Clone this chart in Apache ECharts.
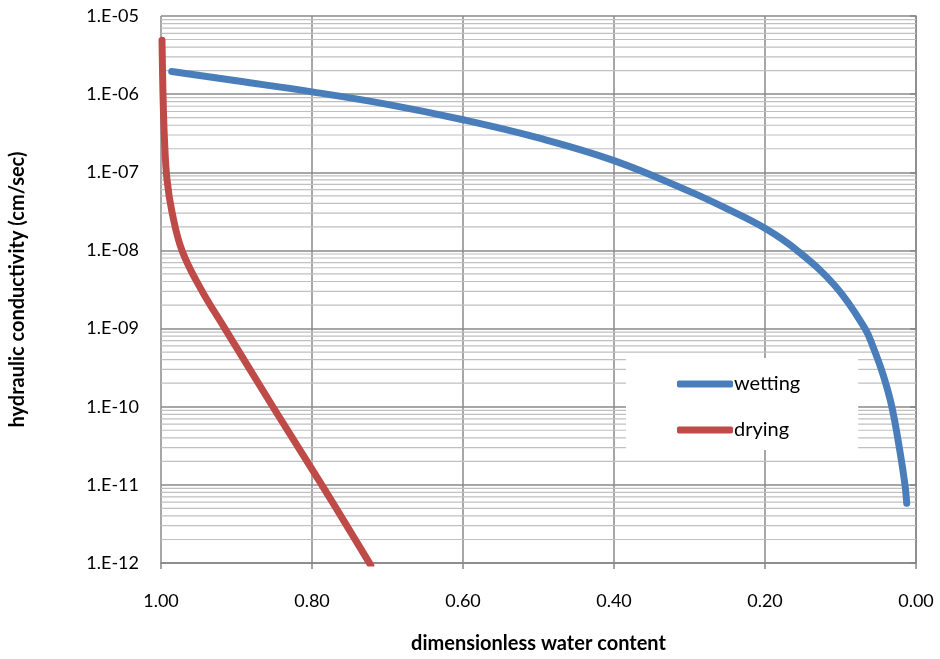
<!DOCTYPE html>
<html>
<head>
<meta charset="utf-8">
<script src="https://cdn.jsdelivr.net/npm/echarts@6/dist/echarts.min.js"></script>
<style>
html,body{margin:0;padding:0;background:#fff;}
#chart{width:940px;height:659px;}
</style>
</head>
<body>
<div id="chart"></div>
<script>
// ---- data ----
const wettingX = [0.9858, 0.90, 0.80, 0.70, 0.60, 0.50, 0.40, 0.30, 0.25, 0.20, 0.1575, 0.107, 0.0675, 0.0565, 0.0432, 0.032, 0.0212, 0.0146, 0.0123];
const wettingY = [1.95e-6, 1.48e-6, 1.07e-6, 7.4e-7, 4.7e-7, 2.75e-7, 1.41e-7, 5.7e-8, 3.4e-8, 1.92e-8, 1.0e-8, 3.5e-9, 1.0e-9, 5.7e-10, 2.5e-10, 1.0e-10, 2.65e-11, 1.0e-11, 5.8e-12];
const dryingX = [0.99868, 0.99735, 0.99537, 0.99206, 0.98545, 0.97222, 0.94709, 0.91534, 0.85185, 0.78704, 0.72222];
const dryingY = [4.9e-6, 1.0e-6, 2.6e-7, 8.1e-8, 3.1e-8, 1.0e-8, 3.2e-9, 1.0e-9, 1.0e-10, 1.0e-11, 9.4e-13];
const seriesNames = ['wetting', 'drying'];
const xMin = 0, xMax = 1;
const yMin = 1e-12, yMax = 1e-5;
const xTitle = 'dimensionless water content';
const yTitle = 'hydraulic conductivity (cm/sec)';

// minor log gridlines (2..9 within each decade)
const minorVals = [];
for (let e = -12; e < -5; e++) {
  for (let m = 2; m <= 9; m++) minorVals.push(m * Math.pow(10, e));
}
const minorGridData = [];
minorVals.forEach(v => { minorGridData.push([xMin, v], [xMax, v], ['-', '-']); });

const FONT = 'Lato';
const chart = echarts.init(document.getElementById('chart'), null, {renderer: 'canvas'});
chart.setOption({
  animation: false,
  backgroundColor: '#ffffff',
  textStyle: {fontFamily: FONT},
  grid: {left: 160, right: 24, top: 16, bottom: 94, containLabel: false},
  legend: {
    z: 20,
    data: [{name: seriesNames[0], icon: 'roundRect'}, {name: seriesNames[1], icon: 'roundRect'}],
    orient: 'vertical',
    left: 626, top: 358,
    backgroundColor: '#ffffff',
    padding: [16, 58, 10, 51],
    itemWidth: 56, itemHeight: 7, itemGap: 26,
    textStyle: {fontFamily: FONT, fontSize: 20, color: '#000', padding: [0, 0, 0, -4]}
  },
  xAxis: {
    type: 'value', inverse: true, min: xMin, max: xMax, interval: 0.2,
    name: xTitle, nameLocation: 'middle', nameGap: 71,
    nameTextStyle: {fontFamily: FONT, fontSize: 20, fontWeight: 'bold', color: '#000'},
    axisLine: {show: true, lineStyle: {color: '#878787', width: 1.5}},
    axisTick: {show: true, inside: false, length: 6, lineStyle: {color: '#878787', width: 1.5}},
    axisLabel: {margin: 29, fontFamily: FONT, fontSize: 18, color: '#000', formatter: v => v.toFixed(2)},
    splitLine: {show: true, lineStyle: {color: '#8a8a8a', width: 1.5}}
  },
  yAxis: {
    type: 'log', logBase: 10, min: yMin, max: yMax,
    name: yTitle, nameLocation: 'middle', nameRotate: 90, nameGap: 133,
    nameTextStyle: {fontFamily: FONT, fontSize: 20, fontWeight: 'bold', color: '#000'},
    axisLine: {show: true, lineStyle: {color: '#878787', width: 1.5}},
    axisTick: {show: true, inside: false, length: 6, lineStyle: {color: '#878787', width: 1.5}},
    axisLabel: {margin: 22, fontFamily: FONT, fontSize: 18, color: '#000',
      formatter: v => '1.E-' + String(-Math.round(Math.log10(v))).padStart(2, '0')},
    splitLine: {show: true, lineStyle: {color: '#8a8a8a', width: 1.5}},
    minorTick: {show: false},
    minorSplitLine: {show: false}
  },
  series: [
    {
      name: 'minorgrid', type: 'line', z: 1, silent: true, symbol: 'none', showSymbol: false,
      connectNulls: false, smooth: false,
      lineStyle: {color: '#c0c0c0', width: 1.2},
      emphasis: {disabled: true},
      data: minorGridData
    },
    {
      name: seriesNames[0], type: 'line', z: 5, smooth: 0.4, symbol: 'none', showSymbol: false,
      color: '#4A7EBB',
      lineStyle: {color: '#4A7EBB', width: 7, cap: 'round', join: 'round'},
      data: wettingX.map((x, i) => [x, wettingY[i]])
    },
    {
      name: seriesNames[1], type: 'line', z: 4, smooth: 0.4, symbol: 'none', showSymbol: false,
      color: '#BE4B48', clip: true,
      lineStyle: {color: '#BE4B48', width: 7, cap: 'round', join: 'round'},
      data: dryingX.map((x, i) => [x, dryingY[i]])
    }
  ]
});
</script>
</body>
</html>
